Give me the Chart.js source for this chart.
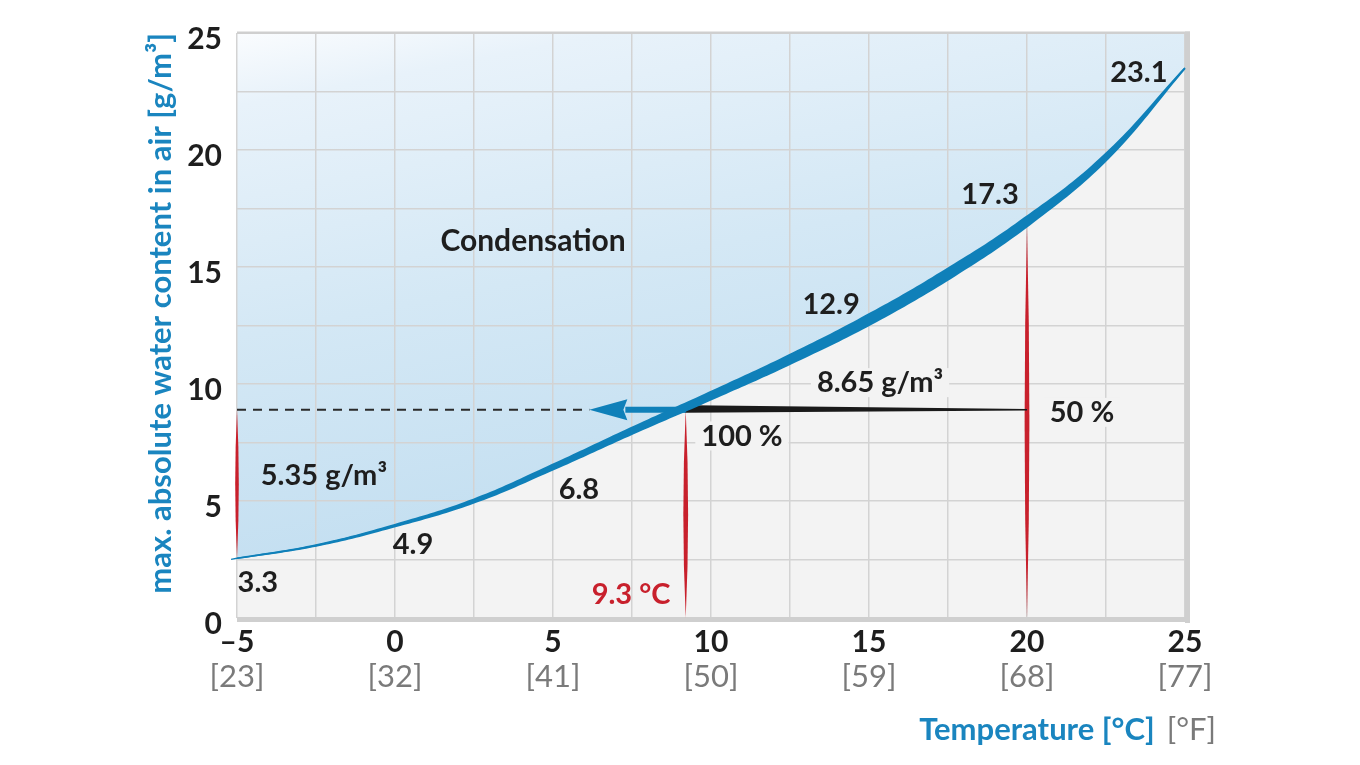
<!DOCTYPE html>
<html><head><meta charset="utf-8">
<script src="https://cdn.jsdelivr.net/npm/chart.js@4.4.1/dist/chart.umd.min.js"></script>
<style>html,body{margin:0;padding:0;background:#fff;}canvas{display:block}</style>
</head><body>
<canvas id="c" width="1360" height="765"></canvas>
<script>
// ---- data ----
const temperatureC = [-5, -2.5, 0, 2.5, 5, 7.5, 10, 12.5, 15, 17.5, 20, 22.5, 25];
const waterContent = [2.55, 3.1, 3.95, 5.0, 6.45, 8.0, 9.5, 11.05, 12.75, 14.7, 16.95, 19.7, 23.5];
const celsiusLabels = ['–5', '0', '5', '10', '15', '20', '25'];
const fahrenheitLabels = ['[23]', '[32]', '[41]', '[50]', '[59]', '[68]', '[77]'];
const yLabels = ['0', '5', '10', '15', '20', '25'];
const markerX = [-5, 9.2, 20];
const markerTop = [8.9, 8.9, 16.8];
const markerBottom = [2.55, 0, 0];
const humidityLineY = 8.9;
const humidityStartX = 20;
const dewPointX = 9.2;
const arrowTipX = 6.15;
const annotationTexts = ['Condensation', '23.1', '17.3', '12.9', '8.65 g/m³', '50 %', '100 %', '6.8', '4.9', '5.35 g/m³', '3.3', '9.3 °C'];
const annotationX = [4.37, 23.54, 18.83, 13.8, 15.35, 21.74, 10.98, 5.82, 0.57, -2.25, -4.34, 7.47];
const annotationY = [16.14, 23.35, 18.14, 13.43, 10.08, 8.81, 7.8, 5.51, 3.18, 6.14, 1.57, 1.06];

const FONT = 'Lato, "Open Sans", sans-serif';
const BLUE = '#0f80b9';
const RED = '#c8202c';
const DARK = '#1e1e1e';

function widthAt(v) {
  const k = [[-5.2, 1.2], [-5, 1.5], [0, 3.5], [5, 6.5], [10, 9], [15, 11.5], [17.5, 11.5], [20, 10], [22.5, 7], [25, 2]];
  if (v <= k[0][0]) return k[0][1];
  for (let i = 1; i < k.length; i++) {
    if (v <= k[i][0]) {
      const t = (v - k[i - 1][0]) / (k[i][0] - k[i - 1][0]);
      return k[i - 1][1] + t * (k[i][1] - k[i - 1][1]);
    }
  }
  return k[k.length - 1][1];
}

const pts = temperatureC.map((t, i) => ({ x: t, y: waterContent[i] }));

const overlay = {
  id: 'overlay',
  afterDatasetsDraw(chart) {
    const ctx = chart.ctx, xs = chart.scales.x, ys = chart.scales.y, a = chart.chartArea;
    ctx.save();
    // frame
    ctx.fillStyle = '#cfcfcf';
    ctx.fillRect(a.left, a.top - 1.5, a.right - a.left + 5, 2.5);
    ctx.fillRect(a.right, a.top - 1.5, 5, a.bottom - a.top + 6.5);
    ctx.fillRect(a.left, a.bottom - 1, a.right - a.left + 5, 5);

    const yh = ys.getPixelForValue(humidityLineY);
    // dashed line
    ctx.setLineDash([9, 7]);
    ctx.strokeStyle = '#2a2a2a';
    ctx.lineWidth = 1.8;
    ctx.beginPath();
    ctx.moveTo(xs.getPixelForValue(-5), yh);
    ctx.lineTo(xs.getPixelForValue(arrowTipX), yh);
    ctx.stroke();
    ctx.setLineDash([]);

    // red spindles
    ctx.fillStyle = RED;
    markerX.forEach((mx, i) => {
      const px = xs.getPixelForValue(mx), t = ys.getPixelForValue(markerTop[i]), b = ys.getPixelForValue(markerBottom[i]);
      const m = (t + b) / 2, w = i === 0 ? 1.8 : 2.4;
      ctx.beginPath();
      ctx.moveTo(px, t);
      ctx.quadraticCurveTo(px + 2 * w, m, px, b);
      ctx.quadraticCurveTo(px - 2 * w, m, px, t);
      ctx.fill();
    });

    // black wedge
    const x20 = xs.getPixelForValue(humidityStartX), xd = xs.getPixelForValue(dewPointX);
    ctx.fillStyle = '#1a1a1a';
    ctx.beginPath();
    ctx.moveTo(x20, yh - 0.7);
    ctx.lineTo(xd + 8, yh - 4.5);
    ctx.lineTo(xd - 2, yh + 3);
    ctx.lineTo(x20, yh + 0.7);
    ctx.closePath();
    ctx.fill();

    // blue arrow
    const xa = xs.getPixelForValue(arrowTipX);
    ctx.fillStyle = BLUE;
    ctx.fillRect(xa + 36, yh - 3, xd - xa - 36, 6);
    ctx.beginPath();
    ctx.moveTo(xa, yh);
    ctx.lineTo(xa + 38, yh - 10.5);
    ctx.lineTo(xa + 34, yh);
    ctx.lineTo(xa + 38, yh + 10.5);
    ctx.closePath();
    ctx.fill();

    // tapered curve from the dataset's own bezier points
    const meta = chart.getDatasetMeta(0);
    const els = meta.data;
    const s = [];
    for (let i = 0; i < els.length - 1; i++) {
      const p = els[i], q = els[i + 1];
      const c1x = p.cp2x ?? p.x, c1y = p.cp2y ?? p.y, c2x = q.cp1x ?? q.x, c2y = q.cp1y ?? q.y;
      for (let k = 0; k < 20; k++) {
        const t = k / 20, u = 1 - t;
        s.push({
          x: u * u * u * p.x + 3 * u * u * t * c1x + 3 * u * t * t * c2x + t * t * t * q.x,
          y: u * u * u * p.y + 3 * u * u * t * c1y + 3 * u * t * t * c2y + t * t * t * q.y
        });
      }
    }
    s.push({ x: els[els.length - 1].x, y: els[els.length - 1].y });
    const d0x = s[1].x - s[0].x, d0y = s[1].y - s[0].y, d0 = Math.hypot(d0x, d0y) || 1;
    s.unshift({ x: s[0].x - 6 * d0x / d0, y: s[0].y - 6 * d0y / d0 });
    const L = [], R = [];
    for (let i = 0; i < s.length; i++) {
      const p0 = s[Math.max(0, i - 1)], p1 = s[Math.min(s.length - 1, i + 1)];
      let tx = p1.x - p0.x, ty = p1.y - p0.y;
      const len = Math.hypot(tx, ty) || 1;
      tx /= len; ty /= len;
      const w = widthAt(xs.getValueForPixel(s[i].x)) / 2;
      L.push([s[i].x - ty * w, s[i].y + tx * w]);
      R.push([s[i].x + ty * w, s[i].y - tx * w]);
    }
    ctx.fillStyle = BLUE;
    ctx.beginPath();
    ctx.moveTo(L[0][0], L[0][1]);
    for (let i = 1; i < L.length; i++) ctx.lineTo(L[i][0], L[i][1]);
    for (let i = R.length - 1; i >= 0; i--) ctx.lineTo(R[i][0], R[i][1]);
    ctx.closePath();
    ctx.fill();

    // annotations
    ctx.textAlign = 'center';
    ctx.textBaseline = 'middle';
    annotationTexts.forEach((txt, i) => {
      const px = xs.getPixelForValue(annotationX[i]), py = ys.getPixelForValue(annotationY[i]);
      ctx.font = (txt === 'Condensation' ? '700 30px ' : '700 29px ') + FONT;
      if (txt === '8.65 g/m³' || txt === '50 %' || txt === '100 %') {
        const w = ctx.measureText(txt).width;
        ctx.fillStyle = '#f3f3f3';
        ctx.fillRect(px - w / 2 - 6, py - 14, w + 12, 29);
      }
      ctx.fillStyle = txt.indexOf('°C') >= 0 ? RED : DARK;
      ctx.fillText(txt, px, py + 1);
    });
    ctx.restore();
  },
  afterDraw(chart) {
    const ctx = chart.ctx;
    ctx.save();
    ctx.textBaseline = 'middle';
    ctx.textAlign = 'right';
    ctx.font = '400 31px ' + FONT;
    ctx.fillStyle = '#7a7a7a';
    const fx = 1216;
    ctx.fillText('[°F]', fx, 730);
    const fw = ctx.measureText('[°F]').width;
    ctx.font = '700 31px ' + FONT;
    ctx.fillStyle = '#1a85bf';
    ctx.fillText('Temperature [°C]', fx - fw - 12, 730);
    ctx.restore();
  }
};

const gridColor = '#d3d3d3';

new Chart(document.getElementById('c'), {
  type: 'line',
  data: {
    datasets: [
      {
        data: pts,
        borderColor: BLUE,
        borderWidth: 1.5,
        pointRadius: 0,
        tension: 0.4,
        capBezierPoints: false,
        fill: 'end',
        backgroundColor: (c) => {
          const a = c.chart.chartArea;
          if (!a) return '#d6e9f6';
          const g = c.chart.ctx.createLinearGradient(a.left, a.top, a.left + 0.12 * (a.right - a.left), a.bottom);
          g.addColorStop(0, '#fafcfe');
          g.addColorStop(0.12, '#e8f2fa');
          g.addColorStop(0.5, '#d4e8f5');
          g.addColorStop(1, '#c0ddf0');
          return g;
        }
      },
      {
        data: pts,
        borderWidth: 0,
        pointRadius: 0,
        tension: 0.4,
        capBezierPoints: false,
        fill: 'start',
        backgroundColor: '#f3f3f3'
      }
    ]
  },
  options: {
    responsive: false,
    animation: false,
    events: [],
    layout: { padding: { left: 140, top: 28, right: 175, bottom: 67 } },
    plugins: {
      legend: { display: false },
      tooltip: { enabled: false },
      filler: { drawTime: 'beforeDraw' }
    },
    scales: {
      x: {
        type: 'linear', position: 'bottom', min: -5, max: 25,
        grid: { color: gridColor, lineWidth: 1.5, drawTicks: false },
        border: { display: false },
        ticks: {
          stepSize: 2.5, autoSkip: false, maxRotation: 0, padding: 6,
          color: DARK, font: { family: FONT, size: 30, weight: '700' },
          callback: (v) => (v % 5 === 0 ? celsiusLabels[(v + 5) / 5] : '')
        },
        afterFit: (s) => { s.height = 40; }
      },
      x2: {
        type: 'linear', position: 'bottom', min: -5, max: 25,
        grid: { display: false, drawTicks: false },
        border: { display: false },
        ticks: {
          stepSize: 5, autoSkip: false, maxRotation: 0, padding: 0,
          color: '#7a7a7a', font: { family: FONT, size: 31, weight: '400' },
          callback: (v) => fahrenheitLabels[(v + 5) / 5]
        },
        afterFit: (s) => { s.height = 40; }
      },
      y: {
        type: 'linear', min: 0, max: 25,
        grid: { color: gridColor, lineWidth: 1.5, drawTicks: false },
        border: { display: false },
        ticks: {
          stepSize: 2.5, autoSkip: false, padding: 15, labelOffset: 6,
          color: DARK, font: { family: FONT, size: 30, weight: '700' },
          callback: (v) => (v % 5 === 0 ? yLabels[v / 5] : '')
        },
        title: {
          display: true, align: 'end',
          text: 'max. absolute water content in air [g/m³]',
          color: '#1a85bf', font: { family: FONT, size: 31, weight: '700' },
          padding: { top: 2, bottom: 0 }
        },
        afterFit: (s) => { s.width = 97; }
      }
    }
  },
  plugins: [overlay]
});
</script>
</body></html>
